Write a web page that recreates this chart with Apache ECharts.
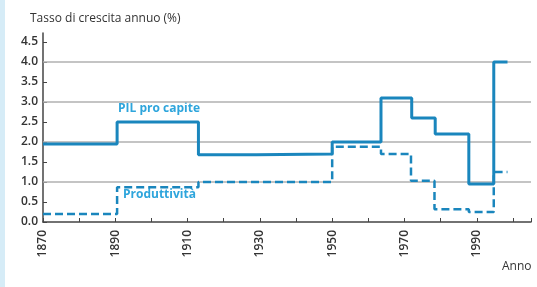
<!DOCTYPE html>
<html>
<head>
<meta charset="utf-8">
<script src="https://cdn.jsdelivr.net/npm/echarts@6/dist/echarts.min.js"></script>
<style>
    html, body { margin: 0; padding: 0; background: #fff; }
    #chart { width: 537px; height: 287px; }
</style>
</head>
<body>
<div id="chart"></div>
<script>
// anni in cui cambia il livello (step), e il livello che parte da quell'anno
var pilYears = [1870, 1890.5, 1913, 1929, 1950, 1963.5, 1972, 1978.5, 1987.8, 1994.7, 1998.5];
var pilValues = [1.95, 2.5, 1.68, 1.7, 2.0, 3.1, 2.6, 2.2, 0.95, 4.0, 4.0];

var prodYears = [1870, 1890.5, 1913, 1950, 1963.5, 1971.8, 1978.3, 1987.8, 1994.7, 1998.5];
var prodValues = [0.2, 0.87, 1.0, 1.88, 1.7, 1.03, 0.32, 0.25, 1.25, 1.25];

var gridValues = [1, 2, 3, 4];
var yearLabels = [1870, 1890, 1910, 1930, 1950, 1970, 1990];

function pairs(xs, ys) {
    return xs.map(function (x, i) {
        return [x, ys[i]];
    });
}

var lineColor = '#1a86bd';
var labelColor = '#2ea5dc';
var chart = echarts.init(document.getElementById('chart'));

var option = {
    backgroundColor: '#fff',
    animation: false,
    title: {
        text: 'Tasso di crescita annuo (%)',
        left: 25,
        top: 8,
        textStyle: {fontSize: 12, fontWeight: 'normal', color: '#333', fontFamily: 'Open Sans'}
    },
    grid: {left: 43, right: 6, top: 33, bottom: 65},
    xAxis: {
        type: 'value',
        min: 1870,
        max: 2005,
        interval: 10,
        axisLine: {lineStyle: {color: '#444', width: 1.5}},
        axisTick: {inside: true, length: 4, lineStyle: {color: '#444'}},
        splitLine: {show: false},
        axisLabel: {
            rotate: 90,
            margin: 8,
            fontSize: 12,
            fontWeight: 600,
            color: '#333',
            fontFamily: 'Open Sans',
            formatter: function (v) {
                return yearLabels.indexOf(v) >= 0 ? String(v) : '';
            }
        }
    },
    yAxis: {
        type: 'value',
        min: 0,
        max: 4.725,
        interval: 0.5,
        axisLine: {show: true, lineStyle: {color: '#444', width: 1.5}},
        axisTick: {show: true, inside: true, length: 4, lineStyle: {color: '#444'}},
        splitLine: {show: false},
        axisLabel: {
            showMaxLabel: false,
            margin: 5,
            fontSize: 12,
            fontWeight: 600,
            color: '#333',
            fontFamily: 'Open Sans',
            formatter: function (v) {
                return v.toFixed(1);
            }
        }
    },
    graphic: [
        {type: 'rect', left: 0, top: 0, shape: {width: 5, height: 287}, style: {fill: '#d6ecf7'}, z: 0},
        {type: 'text', left: 118, top: 103, style: {text: 'PIL pro capite', fill: labelColor, font: 'bold 12px "Open Sans"'}},
        {type: 'text', left: 123, top: 189, style: {text: 'Produttività', fill: labelColor, font: 'bold 12px "Open Sans"'}},
        {type: 'text', left: 502, top: 261, style: {text: 'Anno', fill: '#333', font: '12px "Open Sans"'}}
    ],
    series: [
        {
            name: 'PIL pro capite',
            type: 'line',
            step: 'end',
            data: pairs(pilYears, pilValues),
            showSymbol: false,
            lineStyle: {color: lineColor, width: 3},
            z: 3,
            markLine: {
                silent: true,
                symbol: 'none',
                label: {show: false},
                lineStyle: {color: '#b0b0b0', width: 1.5, type: 'solid'},
                data: gridValues.map(function (v) {
                    return {yAxis: v};
                }),
                z: 1
            }
        },
        {
            name: 'Produttività',
            type: 'line',
            step: 'end',
            data: pairs(prodYears, prodValues),
            showSymbol: false,
            lineStyle: {color: lineColor, width: 2.5, type: [8, 4]},
            z: 2
        }
    ]
};
chart.setOption(option);
</script>
</body>
</html>
